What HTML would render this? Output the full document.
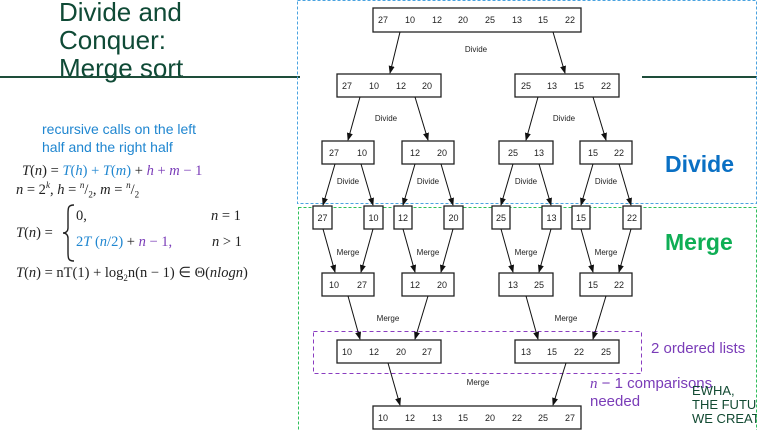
<!DOCTYPE html>
<html><head><meta charset="utf-8"><style>
body{margin:0;width:757px;height:430px;overflow:hidden;background:#fff;position:relative;font-family:"Liberation Sans",sans-serif}
.a{position:absolute;white-space:nowrap}
.t{font-size:26px;color:#0f4a36;left:59px;line-height:28px}
.m{font-family:"Liberation Serif",serif;font-size:14.5px;color:#222}
.b{color:#1f86d0}.p{color:#7a3cb8}
</style></head><body>
<div class="a t" style="top:-2px">Divide and</div>
<div class="a t" style="top:26px">Conquer:</div>
<div class="a t" style="top:54px">Merge sort</div>
<div class="a" style="left:0;top:76px;width:300px;height:2px;background:#1e4d3a"></div>
<div class="a" style="left:642px;top:76px;width:115px;height:2px;background:#1e4d3a"></div>
<div class="a b" style="left:42px;top:120px;font-size:14px;line-height:18px">recursive calls on the left<br>half and the right half</div>
<div class="a m" style="left:22px;top:163px"><i>T</i>(<i>n</i>) = <span class="b"><i>T</i>(<i>h</i>) + <i>T</i>(<i>m</i>)</span> + <span class="p"><i>h</i> + <i>m</i> − 1</span></div>
<div class="a m" style="left:16px;top:180px"><i>n</i> = 2<sup style="font-size:9px"><i>k</i></sup>, <i>h</i> = <sup style="font-size:9px"><i>n</i></sup>/<sub style="font-size:9px">2</sub>, <i>m</i> = <sup style="font-size:9px"><i>n</i></sup>/<sub style="font-size:9px">2</sub></div>
<div class="a m" style="left:16px;top:225px"><i>T</i>(<i>n</i>) =</div>
<svg class="a" style="left:62px;top:204px" width="14" height="58"><path d="M12,1 C6,1 6,4 6,10 L6,24 C6,27 4,29 1,29 C4,29 6,31 6,34 L6,48 C6,54 6,57 12,57" fill="none" stroke="#222" stroke-width="1.4"/></svg>
<div class="a m" style="left:76px;top:208px">0,</div>
<div class="a m" style="left:211px;top:208px"><i>n</i> = 1</div>
<div class="a m" style="left:76px;top:234px"><span class="b">2<i>T</i> (<i>n</i>/2)</span> + <span class="p"><i>n</i> − 1,</span></div>
<div class="a m" style="left:212px;top:234px"><i>n</i> &gt; 1</div>
<div class="a m" style="left:16px;top:265px"><i>T</i>(<i>n</i>) = nT(1) + log<sub style="font-size:9px">2</sub>n(n − 1) ∈ Θ(<i>nlogn</i>)</div>

<div class="a" style="left:665px;top:151px;font-size:23px;font-weight:bold;color:#0a70c4">Divide</div>
<div class="a" style="left:665px;top:229px;font-size:23px;font-weight:bold;color:#0fae55">Merge</div>
<div class="a p" style="left:651px;top:340px;font-size:15px">2 ordered lists</div>
<div class="a p" style="left:590px;top:375px;font-size:15px;line-height:17px"><i style="font-family:'Liberation Serif',serif">n</i> − 1 comparisons<br>needed</div>
<div class="a" style="left:692px;top:384px;font-size:13px;line-height:14px;color:#124a32">EWHA,<br>THE FUTUR<br>WE CREAT</div>

<svg class="a" style="left:0;top:0" width="757" height="430" font-family="Liberation Sans,sans-serif" font-size="9" text-anchor="middle" fill="#222">
<defs><marker id="ar" markerWidth="8" markerHeight="8" refX="7" refY="4" orient="auto" markerUnits="userSpaceOnUse"><path d="M0,1 L8,4 L0,7z" fill="#111"/></marker></defs>
<rect x="297.5" y="0.5" width="459" height="203" fill="none" stroke="#4aa3e0" stroke-dasharray="3,2"/>
<rect x="298.5" y="207.5" width="458" height="223" fill="none" stroke="#2fbf5a" stroke-dasharray="3,2"/>
<rect x="313.5" y="331.5" width="328" height="42" fill="none" stroke="#8a3cc0" stroke-dasharray="4,3"/>
<g fill="#fff" stroke="#222" stroke-width="1.3">
<rect x="373" y="8" width="208" height="24"/>
<rect x="337" y="74" width="104" height="23"/><rect x="515" y="74" width="104" height="23"/>
<rect x="322" y="141" width="52" height="23"/><rect x="402" y="141" width="52" height="23"/><rect x="499" y="141" width="54" height="23"/><rect x="580" y="141" width="52" height="23"/>
<rect x="313" y="206" width="19" height="23"/><rect x="364" y="206" width="19" height="23"/><rect x="394" y="206" width="18" height="23"/><rect x="444" y="206" width="19" height="23"/><rect x="492" y="206" width="18" height="23"/><rect x="542" y="206" width="19" height="23"/><rect x="572" y="206" width="18" height="23"/><rect x="623" y="206" width="18" height="23"/>
<rect x="322" y="273" width="52" height="23"/><rect x="402" y="273" width="52" height="23"/><rect x="499" y="273" width="54" height="23"/><rect x="580" y="273" width="52" height="23"/>
<rect x="337" y="340" width="104" height="23"/><rect x="515" y="340" width="104" height="23"/>
<rect x="373" y="406" width="208" height="23"/>
</g>
<g stroke="#111" stroke-width="1" marker-end="url(#ar)">
<line x1="400" y1="32" x2="390" y2="73"/><line x1="553" y1="32" x2="565" y2="73"/>
<line x1="360" y1="97" x2="348" y2="140"/><line x1="415" y1="97" x2="428" y2="140"/><line x1="538" y1="97" x2="526" y2="140"/><line x1="593" y1="97" x2="606" y2="140"/>
<line x1="335" y1="164" x2="323" y2="205"/><line x1="361" y1="164" x2="373" y2="205"/><line x1="415" y1="164" x2="403" y2="205"/><line x1="441" y1="164" x2="453" y2="205"/><line x1="513" y1="164" x2="501" y2="205"/><line x1="539" y1="164" x2="551" y2="205"/><line x1="593" y1="164" x2="581" y2="205"/><line x1="619" y1="164" x2="631" y2="205"/>
<line x1="323" y1="229" x2="335" y2="272"/><line x1="373" y1="229" x2="361" y2="272"/><line x1="403" y1="229" x2="415" y2="272"/><line x1="453" y1="229" x2="441" y2="272"/><line x1="501" y1="229" x2="513" y2="272"/><line x1="551" y1="229" x2="539" y2="272"/><line x1="581" y1="229" x2="593" y2="272"/><line x1="631" y1="229" x2="619" y2="272"/>
<line x1="348" y1="296" x2="360" y2="339"/><line x1="428" y1="296" x2="415" y2="339"/><line x1="526" y1="296" x2="538" y2="339"/><line x1="606" y1="296" x2="593" y2="339"/>
<line x1="388" y1="363" x2="400" y2="405"/><line x1="566" y1="363" x2="553" y2="405"/>
</g>
<g font-size="8">
<text x="476" y="52">Divide</text><text x="386" y="121">Divide</text><text x="564" y="121">Divide</text>
<text x="348" y="184">Divide</text><text x="428" y="184">Divide</text><text x="526" y="184">Divide</text><text x="606" y="184">Divide</text>
<text x="348" y="255">Merge</text><text x="428" y="255">Merge</text><text x="526" y="255">Merge</text><text x="606" y="255">Merge</text>
<text x="388" y="321">Merge</text><text x="566" y="321">Merge</text><text x="478" y="385">Merge</text>
</g>
<g>
<text x="383" y="23">27</text><text x="410" y="23">10</text><text x="437" y="23">12</text><text x="463" y="23">20</text><text x="490" y="23">25</text><text x="517" y="23">13</text><text x="543" y="23">15</text><text x="570" y="23">22</text>
<text x="347" y="89">27</text><text x="374" y="89">10</text><text x="401" y="89">12</text><text x="427" y="89">20</text><text x="526" y="89">25</text><text x="552" y="89">13</text><text x="579" y="89">15</text><text x="606" y="89">22</text>
<text x="334" y="156">27</text><text x="362" y="156">10</text><text x="415" y="156">12</text><text x="442" y="156">20</text><text x="513" y="156">25</text><text x="539" y="156">13</text><text x="593" y="156">15</text><text x="619" y="156">22</text>
<text x="322.5" y="221">27</text><text x="373.5" y="221">10</text><text x="403" y="221">12</text><text x="453.5" y="221">20</text><text x="501" y="221">25</text><text x="551.5" y="221">13</text><text x="581" y="221">15</text><text x="632" y="221">22</text>
<text x="334" y="288">10</text><text x="362" y="288">27</text><text x="415" y="288">12</text><text x="442" y="288">20</text><text x="513" y="288">13</text><text x="539" y="288">25</text><text x="593" y="288">15</text><text x="619" y="288">22</text>
<text x="347" y="355">10</text><text x="374" y="355">12</text><text x="401" y="355">20</text><text x="427" y="355">27</text><text x="526" y="355">13</text><text x="552" y="355">15</text><text x="579" y="355">22</text><text x="606" y="355">25</text>
<text x="383" y="421">10</text><text x="410" y="421">12</text><text x="437" y="421">13</text><text x="463" y="421">15</text><text x="490" y="421">20</text><text x="517" y="421">22</text><text x="543" y="421">25</text><text x="570" y="421">27</text>
</g>
</svg>
</body></html>
